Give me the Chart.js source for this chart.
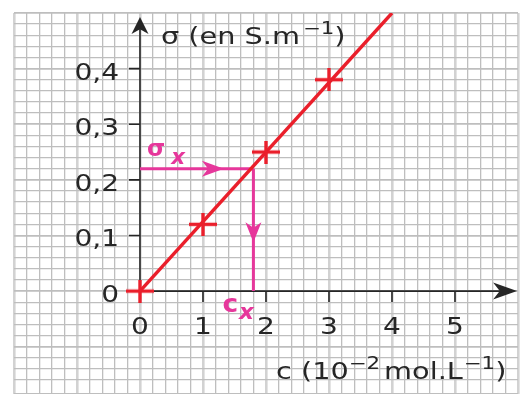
<!DOCTYPE html>
<html>
<head>
<meta charset="utf-8">
<script src="https://cdn.jsdelivr.net/npm/chart.js@4/dist/chart.umd.min.js"></script>
<style>
  html, body { margin: 0; padding: 0; background: #fff; overflow: hidden; }
  #wrap { width: 521px; height: 394px; position: relative; }
  canvas { display: block; }
</style>
</head>
<body>
<div id="wrap"><canvas id="chart"></canvas></div>
<script>
// Calibration: conductivity sigma vs concentration c
const concentrations = [0, 1, 2, 3];            // c (10^-2 mol/L)
const conductivities = [0, 0.12, 0.25, 0.38];   // sigma (S/m)
const fitX = [0, 4];
const fitY = [0, 0.5];
const sigmaX = 0.22;   // measured sigma_x
const cX = 1.8;        // read-off c_x
const xTickValues = [0, 1, 2, 3, 4, 5];
const xTickLabels = ["0", "1", "2", "3", "4", "5"];
const yTickValues = [0, 0.1, 0.2, 0.3, 0.4];
const yTickLabels = ["0", "0,1", "0,2", "0,3", "0,4"];

const RED = "#ea1f2b";
const PINK = "#e6379b";
const INK = "#262626";
const FONT = '"DejaVu Sans", sans-serif';

// "+" marker, wider than tall
function makeCross(w, h, lw) {
  const c = document.createElement("canvas");
  c.width = w; c.height = h;
  const g = c.getContext("2d");
  g.fillStyle = RED;
  g.fillRect(0, (h - lw) / 2, w, lw);
  g.fillRect((w - lw) / 2, 0, lw, h);
  return c;
}

// runs: [{text, font, dy, gap}] drawn left to right from x on baseline y,
// glyphs widened by `stretch`
function drawRuns(ctx, runs, x, y, align, color, stretch = 1.2) {
  ctx.save();
  ctx.fillStyle = color;
  ctx.textBaseline = "alphabetic";
  ctx.textAlign = "left";
  let total = 0;
  runs.forEach(r => { ctx.font = r.font; total += ctx.measureText(r.text).width * stretch + (r.gap || 0); });
  let cx = align === "right" ? x - total : align === "center" ? x - total / 2 : x;
  runs.forEach(r => {
    ctx.font = r.font;
    ctx.save();
    ctx.translate(cx, y + (r.dy || 0));
    ctx.scale(stretch, 1);
    ctx.fillText(r.text, 0, 0);
    ctx.restore();
    cx += ctx.measureText(r.text).width * stretch + (r.gap || 0);
  });
  ctx.restore();
}

function arrowHead(ctx, tx, ty, dx, dy, len, half, color) {
  const px = -dy, py = dx;
  ctx.save();
  ctx.fillStyle = color;
  ctx.beginPath();
  ctx.moveTo(tx, ty);
  ctx.lineTo(tx - dx * len + px * half, ty - dy * len + py * half);
  ctx.lineTo(tx - dx * len * 0.72, ty - dy * len * 0.72);
  ctx.lineTo(tx - dx * len - px * half, ty - dy * len - py * half);
  ctx.closePath();
  ctx.fill();
  ctx.restore();
}

const isMultiple = (v, step) => Math.abs(v / step - Math.round(v / step)) < 1e-6;

const axesPlugin = {
  id: "axes",
  beforeDatasetsDraw(chart) {
    const { ctx, scales: { x, y } } = chart;
    const x0 = x.getPixelForValue(0);
    const y0 = y.getPixelForValue(0);
    const yTip = y.getPixelForValue(0.493);
    const xTip = x.getPixelForValue(5.985);

    ctx.save();
    ctx.strokeStyle = INK;
    ctx.lineWidth = 1.6;
    ctx.beginPath();
    ctx.moveTo(x0, y0); ctx.lineTo(x0, yTip + 8);
    ctx.moveTo(x0, y0); ctx.lineTo(xTip - 10, y0);
    // ticks
    yTickValues.forEach(v => {
      const py = y.getPixelForValue(v);
      ctx.moveTo(x0 - 11, py); ctx.lineTo(x0, py);
    });
    xTickValues.forEach(v => {
      const px = x.getPixelForValue(v);
      ctx.moveTo(px, y0); ctx.lineTo(px, y0 + 11);
    });
    ctx.stroke();
    ctx.restore();
    arrowHead(ctx, x0, yTip, 0, -1, 17, 8.5, INK);
    arrowHead(ctx, xTip, y0, 1, 0, 24, 8.5, INK);

    // tick labels
    const tickFont = "23px " + FONT;
    yTickValues.forEach((v, i) => {
      drawRuns(ctx, [{ text: yTickLabels[i], font: tickFont }], x0 - 21, y.getPixelForValue(v) + 11, "right", INK, 1.22);
    });
    xTickValues.forEach((v, i) => {
      drawRuns(ctx, [{ text: xTickLabels[i], font: tickFont }], x.getPixelForValue(v), y0 + 43, "center", INK, 1.22);
    });

    // read-off guides: sigma_x -> line -> c_x
    const gx = x.getPixelForValue(cX);
    const gy = y.getPixelForValue(sigmaX);
    ctx.save();
    ctx.strokeStyle = PINK;
    ctx.lineWidth = 3;
    ctx.beginPath();
    ctx.moveTo(x0, gy); ctx.lineTo(gx, gy);
    ctx.moveTo(gx, gy); ctx.lineTo(gx, y0);
    ctx.stroke();
    ctx.restore();
    arrowHead(ctx, x0 + (gx - x0) * 0.74, gy, 1, 0, 22, 8, PINK);
    arrowHead(ctx, gx, gy + (y0 - gy) * 0.6, 0, 1, 20, 8, PINK);
  },
  afterDatasetsDraw(chart) {
    const { ctx, scales: { x, y } } = chart;
    const x0 = x.getPixelForValue(0);
    const y0 = y.getPixelForValue(0);
    const gx = x.getPixelForValue(cX);
    const gy = y.getPixelForValue(sigmaX);

    drawRuns(ctx, [
      { text: "σ", font: "bold 23px " + FONT, gap: 6 },
      { text: "x", font: "italic bold 21px " + FONT, dy: 8 }
    ], x0 + 7, gy - 13, "left", PINK, 1.02);
    drawRuns(ctx, [
      { text: "c", font: "bold 24px " + FONT, gap: 1 },
      { text: "x", font: "italic bold 21px " + FONT, dy: 7 }
    ], gx - 31, y0 + 21, "left", PINK, 1.1);

    const f = "23px " + FONT;
    const fs = "17px " + FONT;
    drawRuns(ctx, [
      { text: "σ (en S.m", font: f, gap: 3 },
      { text: "−1", font: fs, dy: -10 },
      { text: ")", font: f }
    ], x0 + 21, 44, "left", INK, 1.25);
    drawRuns(ctx, [
      { text: "c (10", font: f },
      { text: "−2", font: fs, dy: -10, gap: 4 },
      { text: "mol.L", font: f, gap: 1 },
      { text: "−1", font: fs, dy: -10 },
      { text: ")", font: f }
    ], x0 + 136, 379, "left", INK, 1.25);
  }
};

const cross = makeCross(28, 23, 3.4);

new Chart(document.getElementById("chart"), {
  type: "scatter",
  data: {
    datasets: [
      {
        data: concentrations.map((c, i) => ({ x: c, y: conductivities[i] })),
        pointStyle: cross,
        pointRadius: 12,
        showLine: false
      },
      {
        data: fitX.map((c, i) => ({ x: c, y: fitY[i] })),
        showLine: true,
        borderColor: RED,
        borderWidth: 3.4,
        pointRadius: 0
      }
    ]
  },
  options: {
    responsive: true,
    maintainAspectRatio: false,
    animation: false,
    events: [],
    layout: { autoPadding: false, padding: { left: 14, top: 13, right: 3, bottom: 0 } },
    plugins: { legend: { display: false }, tooltip: { enabled: false } },
    scales: {
      x: {
        type: "linear", min: -2, max: 6,
        ticks: { display: false, stepSize: 0.2, maxTicksLimit: 200 },
        border: { display: false },
        grid: {
          drawTicks: false,
          color: c => isMultiple(c.tick.value, 1) ? "#d2d2d2" : "#bebebe",
          lineWidth: c => isMultiple(c.tick.value, 1) ? 2.6 : 1.3
        }
      },
      y: {
        type: "linear", min: -0.185, max: 0.5,
        ticks: { display: false, stepSize: 0.02, maxTicksLimit: 200 },
        border: { display: false },
        grid: {
          drawTicks: false,
          color: "#bebebe",
          lineWidth: c => isMultiple(c.tick.value, 0.1) ? 1.7 : 1.3
        }
      }
    }
  },
  plugins: [axesPlugin]
});
</script>
</body>
</html>
